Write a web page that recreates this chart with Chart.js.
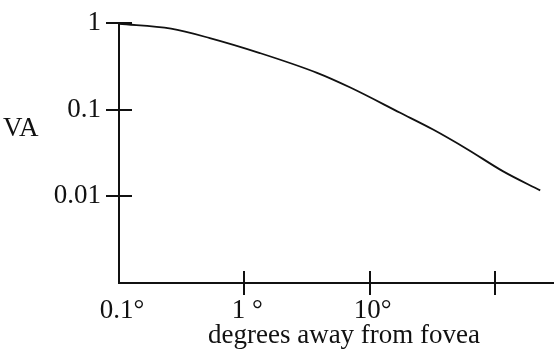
<!DOCTYPE html>
<html>
<head>
<meta charset="utf-8">
<script src="https://cdn.jsdelivr.net/npm/chart.js@4"></script>
<style>
  html, body { margin: 0; padding: 0; background: #fff; }
  #wrap { width: 554px; height: 350px; position: relative; }
</style>
</head>
<body>
<div id="wrap"><canvas id="vaChart"></canvas></div>
<script>
// visual acuity vs eccentricity (log-log)
const angleDeg = [0.1, 0.26, 0.53, 1.33, 3.8, 7.0, 17.5, 32, 60, 116, 229];
const acuity = [0.98, 0.86, 0.67, 0.45, 0.266, 0.18, 0.092, 0.059, 0.035, 0.0194, 0.0117];

const xTickValues = [0.1, 1, 10, 100];
const xTickLabels = ['0.1°', '1 °', '10°', ''];
const yTickValues = [1, 0.1, 0.01];
const yTickLabels = ['1', '0.1', '0.01'];

const serif = 'Liberation Serif';
const ink = '#111';
const fontPx = 27;

// tick marks that cross the axis on both sides + the two axis titles
const crossTicks = {
    id: 'crossTicks',
    afterDraw(chart) {
        const ctx = chart.ctx;
        const x = chart.scales.x, y = chart.scales.y;
        const area = chart.chartArea;
        ctx.save();
        ctx.strokeStyle = ink;
        ctx.lineWidth = 2;
        yTickValues.forEach(v => {
            const py = Math.round(y.getPixelForValue(v));
            ctx.beginPath();
            ctx.moveTo(area.left - 13, py);
            ctx.lineTo(area.left + 13, py);
            ctx.stroke();
        });
        xTickValues.slice(1).forEach(v => {
            const px = Math.round(x.getPixelForValue(v));
            ctx.beginPath();
            ctx.moveTo(px, area.bottom - 12);
            ctx.lineTo(px, area.bottom + 12);
            ctx.stroke();
        });
        ctx.fillStyle = ink;
        ctx.font = `${fontPx}px "${serif}"`;
        ctx.textBaseline = 'middle';
        ctx.textAlign = 'left';
        ctx.fillText('VA', 3, 129);
        ctx.textAlign = 'center';
        ctx.fillText('degrees away from fovea', 344, 336);
        ctx.restore();
    }
};

new Chart(document.getElementById('vaChart'), {
    type: 'line',
    data: {
        datasets: [{
            data: angleDeg.map((a, i) => ({ x: a, y: acuity[i] })),
            borderColor: ink,
            borderWidth: 1.8,
            pointRadius: 0,
            cubicInterpolationMode: 'monotone',
            fill: false
        }]
    },
    options: {
        responsive: true,
        maintainAspectRatio: false,
        animation: false,
        layout: { padding: { top: 23, right: 0, left: 0, bottom: 0 } },
        plugins: { legend: { display: false }, tooltip: { enabled: false } },
        scales: {
            x: {
                type: 'logarithmic',
                min: 0.1,
                max: 295,
                afterBuildTicks: s => { s.ticks = xTickValues.map(v => ({ value: v })); },
                afterFit: s => { s.height = 67; s.paddingLeft = 0; s.paddingRight = 0; },
                grid: { display: false, drawTicks: false },
                border: { display: true, color: ink, width: 2 },
                ticks: {
                    autoSkip: false,
                    maxRotation: 0,
                    padding: 12,
                    labelOffset: 3,
                    color: ink,
                    font: { family: serif, size: fontPx },
                    callback: (v, i) => xTickLabels[i]
                }
            },
            y: {
                type: 'logarithmic',
                min: 0.001,
                max: 1,
                afterBuildTicks: s => { s.ticks = yTickValues.map(v => ({ value: v })); },
                afterFit: s => { s.width = 119; s.paddingTop = 0; s.paddingBottom = 0; },
                grid: { display: false, drawTicks: false },
                border: { display: true, color: ink, width: 2 },
                ticks: {
                    autoSkip: false,
                    padding: 18,
                    color: ink,
                    font: { family: serif, size: fontPx },
                    callback: (v, i) => yTickLabels[i]
                }
            }
        }
    },
    plugins: [crossTicks]
});
</script>
</body>
</html>
